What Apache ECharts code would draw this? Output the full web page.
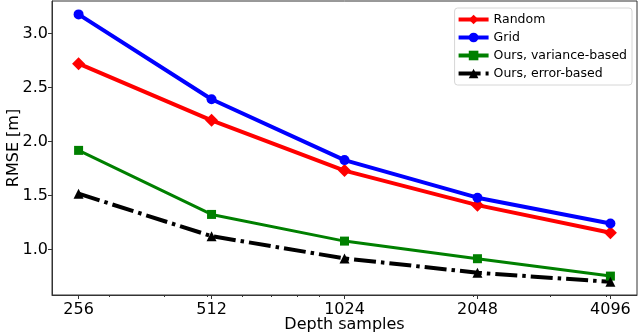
<!DOCTYPE html>
<html>
<head>
<meta charset="utf-8">
<script src="https://cdn.jsdelivr.net/npm/echarts@6/dist/echarts.min.js"></script>
<style>html,body{margin:0;padding:0;background:#fff}#c{width:640px;height:335px}</style>
</head>
<body>
<div id="c"></div>
<script>
const categories = [256, 512, 1024, 2048, 4096];
const seriesNames = ['Random', 'Grid', 'Ours, variance-based', 'Ours, error-based'];
const randomVals = [2.72, 2.195, 1.73, 1.41, 1.155];
const gridVals = [3.176, 2.39, 1.827, 1.479, 1.24];
const oursVarVals = [1.917, 1.324, 1.077, 0.914, 0.753];
const oursErrVals = [1.516, 1.123, 0.917, 0.784, 0.70];
const yTickLabels = [1.0, 1.5, 2.0, 2.5, 3.0];
const xMinorTicks = [300, 400, 500, 600, 700, 800, 900, 2000, 3000, 4000];

const FONT = 'DejaVu Sans';
const toPts = vals => vals.map((v, i) => [Math.log2(categories[i]), v]);
const xMin = 7.8, xMax = 12.2, yMin = 0.578, yMax = 3.30;

const chart = echarts.init(document.getElementById('c'), null, {renderer: 'canvas'});
chart.setOption({
  animation: false,
  backgroundColor: '#fff',
  textStyle: {fontFamily: FONT},
  grid: {left: 52, right: 3, top: 1, bottom: 40, containLabel: false, outerBoundsMode: 'none',
    show: true, borderColor: '#333', borderWidth: 1, backgroundColor: 'transparent'},
  legend: {
    right: 8, top: 8, orient: 'vertical',
    itemWidth: 30, itemHeight: 12, itemGap: 5,
    padding: [5, 5, 5, 2],
    borderColor: '#d6d6d6', borderWidth: 1, borderRadius: 3,
    backgroundColor: '#fff',
    lineStyle: {width: 4},
    textStyle: {fontFamily: FONT, fontSize: 12.5, color: '#000'},
    data: seriesNames
  },
  xAxis: [{
    type: 'value', min: xMin, max: xMax,
    axisLine: {show: true, onZero: false, lineStyle: {color: '#333', width: 1}},
    axisTick: {show: true, length: 4, lineStyle: {color: '#333'}, customValues: categories.map(c => Math.log2(c))},
    axisLabel: {fontSize: 16, color: '#000', margin: 7, fontFamily: FONT,
      customValues: categories.map(c => Math.log2(c)),
      formatter: v => String(Math.round(Math.pow(2, v)))},
    splitLine: {show: false},
    name: 'Depth samples', nameLocation: 'middle', nameGap: 22, nameMoveOverlap: false,
    nameTextStyle: {fontSize: 16, color: '#000', fontFamily: FONT}
  }, {
    type: 'value', min: xMin, max: xMax, position: 'bottom',
    axisLine: {show: false},
    axisTick: {show: true, inside: false, length: 2, lineStyle: {color: '#333'}, customValues: xMinorTicks.map(c => Math.log2(c))},
    axisLabel: {show: false},
    splitLine: {show: false}
  }],
  yAxis: {
    type: 'value', min: yMin, max: yMax,
    axisLine: {show: true, lineStyle: {color: '#333', width: 1}},
    axisTick: {show: true, length: 4, lineStyle: {color: '#333'}, customValues: yTickLabels},
    axisLabel: {fontSize: 16, color: '#000', margin: 4, fontFamily: FONT,
      customValues: yTickLabels, formatter: v => v.toFixed(1)},
    splitLine: {show: false},
    name: 'RMSE [m]', nameLocation: 'middle', nameGap: 30, nameRotate: 90, nameMoveOverlap: false,
    nameTextStyle: {fontSize: 16, color: '#000', fontFamily: FONT}
  },
  series: [
    {name: seriesNames[0], type: 'line', data: toPts(randomVals), symbol: 'diamond', symbolSize: 13,
      itemStyle: {color: '#ff0000'}, lineStyle: {color: '#ff0000', width: 4}},
    {name: seriesNames[1], type: 'line', data: toPts(gridVals), symbol: 'circle', symbolSize: 10,
      itemStyle: {color: '#0000ff'}, lineStyle: {color: '#0000ff', width: 4}},
    {name: seriesNames[2], type: 'line', data: toPts(oursVarVals), symbol: 'rect', symbolSize: 9,
      itemStyle: {color: '#008000'}, lineStyle: {color: '#008000', width: 3}},
    {name: seriesNames[3], type: 'line', data: toPts(oursErrVals), symbol: 'triangle', symbolSize: 10,
      itemStyle: {color: '#000000'}, lineStyle: {color: '#000000', width: 4, type: [22, 5, 3.5, 5]}}
  ]
});
</script>
</body>
</html>
